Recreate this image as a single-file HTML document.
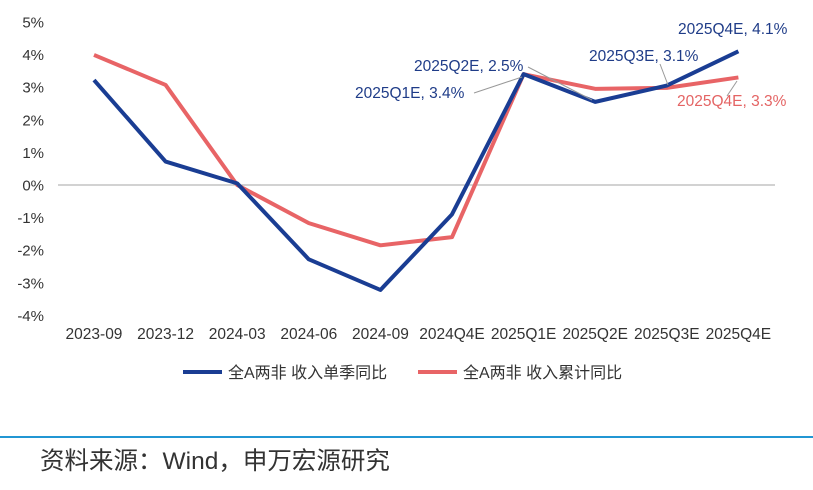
<!DOCTYPE html>
<html><head><meta charset="utf-8"><style>
body{margin:0;background:#fff;}
svg text{font-family:"Liberation Sans","Noto Sans CJK SC",sans-serif;}
</style></head><body>
<svg width="813" height="485" xmlns="http://www.w3.org/2000/svg">
<g id="yticks"></g>
<g id="xticks"></g>
<line x1="58" y1="185" x2="775" y2="185" stroke="#a6a6a6" stroke-width="1"/>
<g id="series"></g>
<g font-size="15.5">
<text x="678" y="34" fill="#1f3c88">2025Q4E, 4.1%</text>
<text x="589" y="61" fill="#1f3c88">2025Q3E, 3.1%</text>
<line x1="660" y1="64" x2="668" y2="85" stroke="#999"/>
<text x="414" y="71" fill="#1f3c88">2025Q2E, 2.5%</text>
<line x1="528" y1="67" x2="592" y2="100" stroke="#999"/>
<text x="355" y="98" fill="#1f3c88">2025Q1E, 3.4%</text>
<line x1="474" y1="93" x2="522" y2="77" stroke="#999"/>
<text x="677" y="106" fill="#e46464">2025Q4E, 3.3%</text>
<line x1="737" y1="81" x2="727" y2="96" stroke="#999"/>
</g>
<g font-size="16" fill="#333">
<line x1="183" y1="372" x2="222" y2="372" stroke="#1a3d93" stroke-width="4"/>
<text x="228" y="378">全A两非 收入单季同比</text>
<line x1="418" y1="372" x2="457" y2="372" stroke="#e86466" stroke-width="4"/>
<text x="463" y="378">全A两非 收入累计同比</text>
</g>
<line x1="0" y1="437" x2="813" y2="437" stroke="#2196d3" stroke-width="2"/>
<text x="40" y="469" font-size="24.5" fill="#333">资料来源：Wind，申万宏源研究</text>
</svg>
<script>
const categories=["2023-09","2023-12","2024-03","2024-06","2024-09","2024Q4E","2025Q1E","2025Q2E","2025Q3E","2025Q4E"];
const singleQuarter=[3.22,0.72,0.05,-2.28,-3.22,-0.9,3.4,2.55,3.05,4.1];
const cumulative=[3.99,3.07,0.0,-1.17,-1.85,-1.6,3.4,2.95,2.98,3.3];
const yTicks=[5,4,3,2,1,0,-1,-2,-3,-4];
const NS="http://www.w3.org/2000/svg";
function yPos(v){return 185-v*32.6;}
function xPos(i){return 94+i*71.6;}
const yg=document.getElementById('yticks');
yTicks.forEach(t=>{const e=document.createElementNS(NS,'text');
e.setAttribute('x',44);e.setAttribute('y',yPos(t)+5.5);e.setAttribute('text-anchor','end');
e.setAttribute('font-size','15');e.setAttribute('fill','#333');e.textContent=t+'%';


yg.appendChild(e);});
const xg=document.getElementById('xticks');
categories.forEach((c,i)=>{const e=document.createElementNS(NS,'text');
e.setAttribute('x',xPos(i));e.setAttribute('y',339);e.setAttribute('text-anchor','middle');
e.setAttribute('font-size','15.5');e.setAttribute('fill','#333');e.textContent=c;


xg.appendChild(e);});
const sg=document.getElementById('series');
function line(vals,color,name){const p=document.createElementNS(NS,'polyline');
p.setAttribute('points',vals.map((v,i)=>xPos(i)+','+yPos(v)).join(' '));
p.setAttribute('fill','none');p.setAttribute('stroke',color);p.setAttribute('stroke-width','4');
p.setAttribute('stroke-linejoin','round');


sg.appendChild(p);}
line(cumulative,'#e86466','series-cumulative-yoy');
line(singleQuarter,'#1a3d93','series-single-quarter-yoy');
</script>
</body></html>
